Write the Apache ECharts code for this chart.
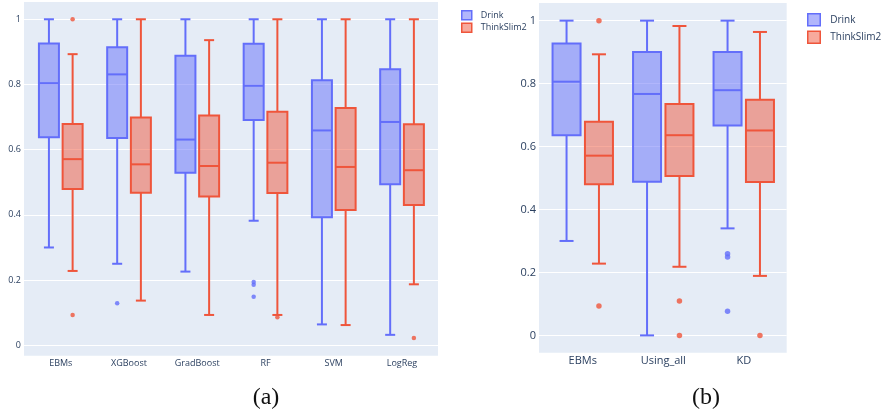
<!DOCTYPE html>
<html><head><meta charset="utf-8">
<script src="https://cdn.jsdelivr.net/npm/echarts@6/dist/echarts.min.js"></script>
<style>html,body{margin:0;padding:0;background:#fff}#c{width:881px;height:414px}</style>
</head><body><div id="c"></div>
<script>
// ---- Data: [lower whisker, Q1, median, Q3, upper whisker] ----
const catsA = ['EBMs', 'XGBoost', 'GradBoost', 'RF', 'SVM', 'LogReg'];
const drinkA = [
  [0.300, 0.638, 0.804, 0.926, 1.000],
  [0.250, 0.636, 0.831, 0.914, 1.000],
  [0.226, 0.529, 0.631, 0.888, 1.000],
  [0.382, 0.691, 0.796, 0.925, 1.000],
  [0.064, 0.393, 0.659, 0.813, 1.000],
  [0.032, 0.494, 0.685, 0.847, 1.000]
];
const thinkA = [
  [0.228, 0.479, 0.571, 0.679, 0.893],
  [0.137, 0.468, 0.555, 0.699, 1.000],
  [0.093, 0.456, 0.550, 0.705, 0.936],
  [0.093, 0.467, 0.560, 0.716, 1.000],
  [0.062, 0.415, 0.547, 0.728, 1.000],
  [0.187, 0.430, 0.537, 0.678, 1.000]
];
const drinkOutA = [[1, 0.129], [3, 0.194], [3, 0.186], [3, 0.149]];
const thinkOutA = [[0, 1.0], [0, 0.093], [3, 0.086], [5, 0.022]];

const catsB = ['EBMs', 'Using_all', 'KD'];
const drinkB = [
  [0.300, 0.636, 0.806, 0.927, 1.000],
  [0.000, 0.488, 0.767, 0.900, 1.000],
  [0.340, 0.667, 0.779, 0.900, 1.000]
];
const thinkB = [
  [0.228, 0.480, 0.571, 0.679, 0.893],
  [0.218, 0.506, 0.636, 0.735, 0.983],
  [0.189, 0.487, 0.651, 0.749, 0.964]
];
const drinkOutB = [[2, 0.259], [2, 0.249], [2, 0.077]];
const thinkOutB = [[0, 1.0], [0, 0.093], [1, 0.109], [1, 0.0], [2, 0.0]];

const yTicks = [0, 0.2, 0.4, 0.6, 0.8, 1];
const seriesNames = ['Drink', 'ThinkSlim2'];

// ---- Styles ----
const BLUE = '#636efa', RED = '#ef553b';
const BLUE_F = 'rgba(99,110,250,0.5)', RED_F = 'rgba(239,85,59,0.5)';
const TXT = '#2a3f5f';
const FONT = 'Open Sans';

function boxRender(offset, halfW, stroke, fill) {
  return function (params, api) {
    const c = api.value(0);
    const pLo = api.coord([c, api.value(1)]);
    const pQ1 = api.coord([c, api.value(2)]);
    const pMd = api.coord([c, api.value(3)]);
    const pQ3 = api.coord([c, api.value(4)]);
    const pHi = api.coord([c, api.value(5)]);
    const x = pMd[0] + offset;
    const capW = halfW / 2;
    const ls = { stroke: stroke, lineWidth: 2, fill: null };
    return {
      type: 'group', children: [
        { type: 'line', shape: { x1: x, y1: pQ3[1], x2: x, y2: pHi[1] }, style: ls },
        { type: 'line', shape: { x1: x, y1: pQ1[1], x2: x, y2: pLo[1] }, style: ls },
        { type: 'line', shape: { x1: x - capW, y1: pHi[1], x2: x + capW, y2: pHi[1] }, style: ls },
        { type: 'line', shape: { x1: x - capW, y1: pLo[1], x2: x + capW, y2: pLo[1] }, style: ls },
        { type: 'rect', shape: { x: x - halfW, y: pQ3[1], width: 2 * halfW, height: pQ1[1] - pQ3[1] }, style: { fill: fill, stroke: stroke, lineWidth: 2 } },
        { type: 'line', shape: { x1: x - halfW, y1: pMd[1], x2: x + halfW, y2: pMd[1] }, style: ls }
      ]
    };
  };
}

function boxSeries(name, data, xi, offset, halfW, stroke, fill) {
  return {
    type: 'custom', name: name, xAxisIndex: xi, yAxisIndex: xi,
    data: data.map((d, i) => [i].concat(d)),
    encode: { x: 0, y: [1, 2, 3, 4, 5] },
    renderItem: boxRender(offset, halfW, stroke, fill),
    itemStyle: { color: fill, borderColor: stroke },
    silent: true
  };
}
function outSeries(name, data, xi, offset, color, size) {
  return {
    type: 'scatter', name: name, xAxisIndex: xi, yAxisIndex: xi,
    data: data, symbol: 'circle', symbolSize: size, symbolOffset: [offset, 0],
    itemStyle: { color: color }, silent: true, z: 3
  };
}

function bgY(gi, min, max, fs) {
  return {
    gridIndex: gi, type: 'value', min: min, max: max,
    axisLine: { show: false },
    axisTick: { show: false, customValues: yTicks },
    axisLabel: { customValues: yTicks, color: TXT, fontSize: fs, fontFamily: FONT, margin: 3 },
    splitLine: { show: true, lineStyle: { color: '#ffffff', width: 1 } }
  };
}
function hiddenY(gi, min, max) {
  return { gridIndex: gi, type: 'value', min: min, max: max, show: false, splitLine: { show: false } };
}
function catX(gi, cats, fs, show) {
  return {
    gridIndex: gi, type: 'category', data: cats, show: show,
    axisLine: { show: false }, axisTick: { show: false },
    axisLabel: { color: TXT, fontSize: fs, fontFamily: FONT, margin: 3 },
    splitLine: { show: false }
  };
}
function legendItems() {
  return [
    { name: seriesNames[0], itemStyle: { color: BLUE_F, borderColor: BLUE, borderWidth: 1.5 } },
    { name: seriesNames[1], itemStyle: { color: RED_F, borderColor: RED, borderWidth: 1.5 } }
  ];
}

const yMinA = -0.032, yMaxA = 1.053;
const yMinB = -0.055, yMaxB = 1.056;

const option = {
  animation: false,
  backgroundColor: '#ffffff',
  grid: [
    { left: 24, top: 2, width: 414, height: 353.7, show: true, backgroundColor: '#E5ECF6', borderWidth: 0 },
    { left: 26.6, top: 2, width: 409.5, height: 353.7 },
    { left: 539, top: 3, width: 247.7, height: 349.7, show: true, backgroundColor: '#E5ECF6', borderWidth: 0 },
    { left: 542.5, top: 3, width: 241.5, height: 349.7 }
  ],
  xAxis: [
    catX(0, catsA, 9, false),
    catX(1, catsA, 9, true),
    catX(2, catsB, 11, false),
    catX(3, catsB, 11, true)
  ],
  yAxis: [
    bgY(0, yMinA, yMaxA, 9),
    hiddenY(1, yMinA, yMaxA),
    bgY(2, yMinB, yMaxB, 11),
    hiddenY(3, yMinB, yMaxB)
  ],
  legend: [
    {
      left: 456, top: 5, orient: 'vertical', icon: 'rect', itemWidth: 10, itemHeight: 9, itemGap: 2,
      textStyle: { color: TXT, fontSize: 9, fontFamily: FONT, padding: [0, 0, 0, 4] },
      data: legendItems(), selectedMode: false
    },
    {
      left: 802, top: 8, orient: 'vertical', icon: 'rect', itemWidth: 12.5, itemHeight: 12, itemGap: 4,
      textStyle: { color: TXT, fontSize: 10, fontFamily: FONT, padding: [0, 0, 0, 5] },
      data: legendItems(), selectedMode: false
    }
  ],
  series: [
    boxSeries(seriesNames[0], drinkA, 1, -11.8, 10, BLUE, BLUE_F),
    boxSeries(seriesNames[1], thinkA, 1, 11.9, 10, RED, RED_F),
    outSeries(seriesNames[0], drinkOutA, 1, -11.8, BLUE, 4.5),
    outSeries(seriesNames[1], thinkOutA, 1, 11.9, RED, 4.5),
    boxSeries(seriesNames[0], drinkB, 3, -16.2, 14, BLUE, BLUE_F),
    boxSeries(seriesNames[1], thinkB, 3, 16.2, 14, RED, RED_F),
    outSeries(seriesNames[0], drinkOutB, 3, -16.2, BLUE, 5.5),
    outSeries(seriesNames[1], thinkOutB, 3, 16.2, RED, 5.5)
  ],
  graphic: [
    { type: 'text', x: 266, y: 398, style: { text: '(a)', font: '24px "Liberation Serif"', fill: '#111', align: 'center', verticalAlign: 'middle', textAlign: 'center', textVerticalAlign: 'middle' } },
    { type: 'text', x: 706, y: 398, style: { text: '(b)', font: '24px "Liberation Serif"', fill: '#111', align: 'center', verticalAlign: 'middle', textAlign: 'center', textVerticalAlign: 'middle' } }
  ]
};

const chart = echarts.init(document.getElementById('c'), null, { renderer: 'canvas' });
chart.setOption(option);
</script>
</body></html>
